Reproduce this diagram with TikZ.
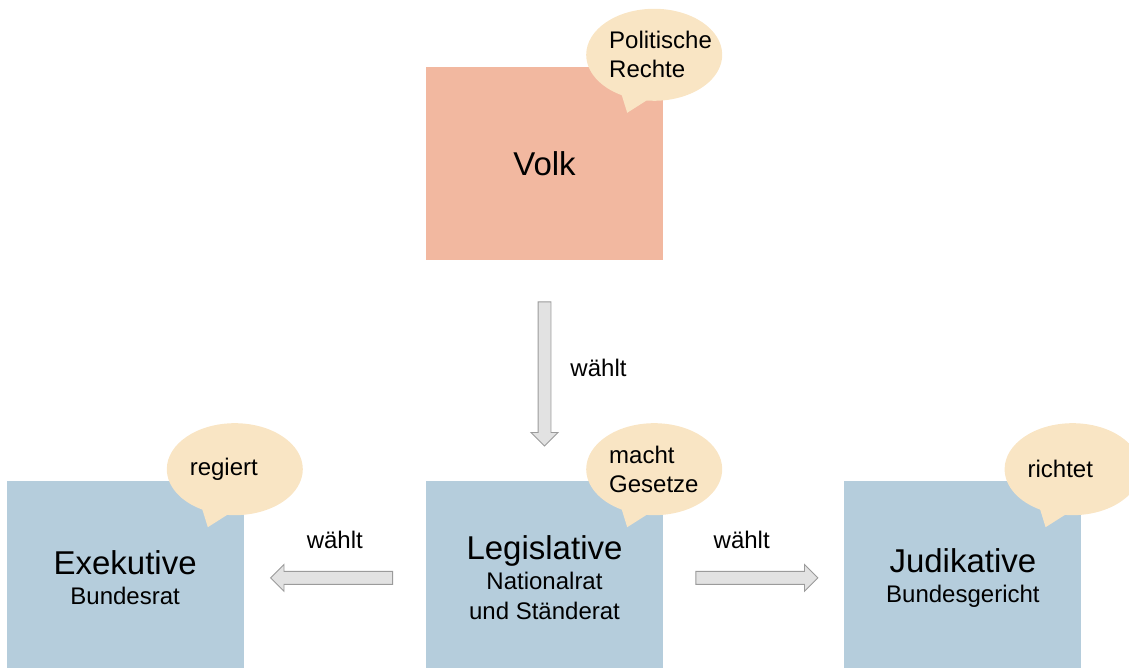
\documentclass[tikz,border=0pt]{standalone}
\usepackage{fontspec}
\setmainfont{Liberation Sans}
\usetikzlibrary{positioning, shapes.callouts, shapes.arrows}

\definecolor{volkfill}{RGB}{242,184,160}
\definecolor{gewaltfill}{RGB}{181,205,220}
\definecolor{bubblefill}{RGB}{249,229,196}
\definecolor{arrowfill}{RGB}{226,226,226}
\definecolor{arrowdraw}{RGB}{155,155,155}

\newcommand{\titlefont}{\fontsize{33}{38}\selectfont}

\begin{document}
\begin{tikzpicture}[
            x = 1pt, y = 1pt, % one unit is one pixel
            node distance = 180pt, % gap between boxes
            every node/.style = {text = black},
            box/.style = {
                rectangle,
                minimum width = 237pt,
                minimum height = 193pt,
                inner sep = 0pt,
                align = center,
                font = \fontsize{24}{30}\selectfont
            },
            wlabel/.style = {font = \fontsize{24}{29}\selectfont},
            tail/.style = {callout absolute pointer = {([shift={(-36pt,-46pt)}]#1.north east)}}
        ]

        \tikzstyle{bubble}=[
            ellipse callout,
            fill = bubblefill,
            minimum width = 136pt,
            minimum height = 92pt,
            inner sep = 0pt,
            text width = 90pt,
            align = left,
            callout pointer arc = 22,
            font = \fontsize{24}{29}\selectfont
        ]

        \tikzstyle{blockarrow}=[
            single arrow,
            draw = arrowdraw,
            fill = arrowfill,
            line width = 0.9pt,
            inner sep = 6pt,
            single arrow head extend = 7pt
        ]

        \useasboundingbox (0,0) rectangle (1129,668);

        % boxes
        \node[box, fill = volkfill] (volk) at (544.5,504.5) {\titlefont Volk};
        \node[box, fill = gewaltfill] (legis) [below=221pt of volk] {{\titlefont Legislative}\\Nationalrat\\und Ständerat};
        \node[box, fill = gewaltfill] (exek) [left=182pt of legis] {{\titlefont Exekutive}\\Bundesrat};
        \node[box, fill = gewaltfill] (judi) [right=181pt of legis] {{\titlefont Judikative}\\Bundesgericht};

        % speech bubbles
        \node[bubble, tail = volk] (volkB) at ([shift={(-9pt,12pt)}]volk.north east) {Politische\\Rechte};
        \node[bubble, tail = legis] (legisB) at ([shift={(-9pt,12pt)}]legis.north east) {macht\\Gesetze};
        \node[bubble, tail = exek] (exekB) at ([shift={(-9pt,12pt)}]exek.north east) {regiert};
        \node[bubble, tail = judi] (judiB) at ([shift={(-9pt,12pt)}]judi.north east) {richtet};

        % arrows
        \path (volk) -- (legis) node[midway, blockarrow, minimum height = 144pt, rotate = -90] (arrD) {};
        \path (legis) -- (exek) node[midway, blockarrow, minimum height = 122pt, rotate = 180] (arrL) {};
        \path (legis) -- (judi) node[midway, blockarrow, minimum height = 122pt] (arrR) {};

        \node[wlabel] at ([shift={(54pt,3pt)}]arrD.center) {wählt};
        \node[wlabel] at ([shift={(0pt,38pt)}]arrL.center) {wählt};
        \node[wlabel] at ([shift={(-12pt,38pt)}]arrR.center) {wählt};

    \end{tikzpicture}
\end{document}
